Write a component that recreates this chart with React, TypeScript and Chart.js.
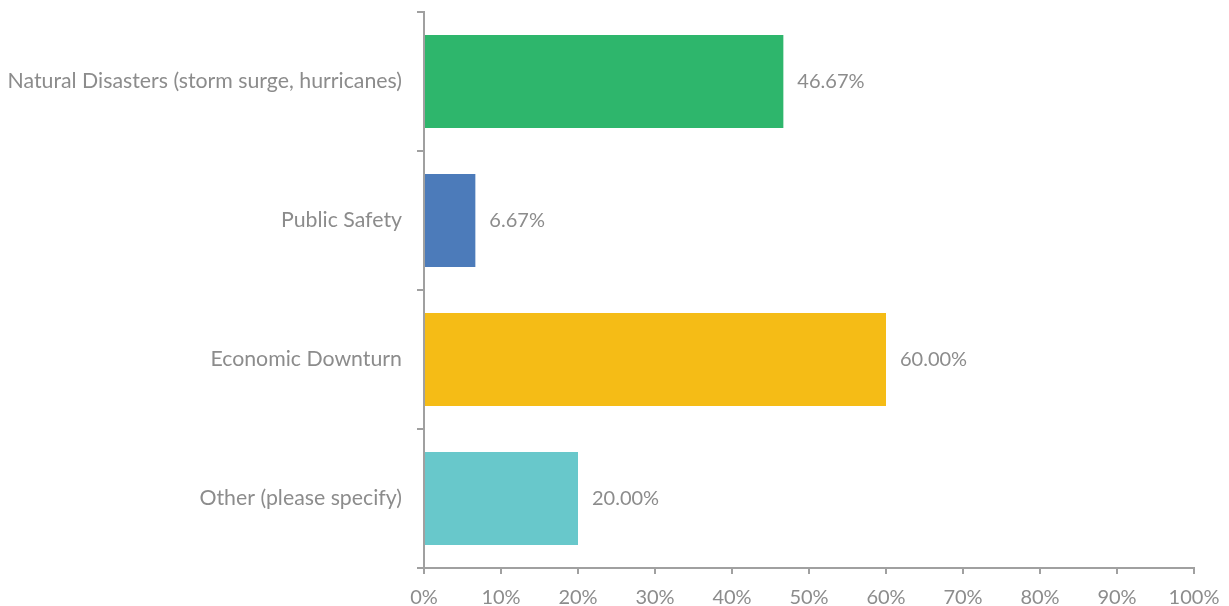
import React, { useEffect, useRef } from "react";
import { Chart, registerables } from "chart.js";

Chart.register(...registerables);

const categories = [
  "Natural Disasters (storm surge, hurricanes)",
  "Public Safety",
  "Economic Downturn",
  "Other (please specify)",
];
const values = [46.67, 6.67, 60.0, 20.0];
const barColors = ["#2EB66C", "#4C7BBA", "#F5BC16", "#68C8CB"];
const xTicks = [0, 10, 20, 30, 40, 50, 60, 70, 80, 90, 100];

const FONT = "Lato, 'Open Sans', sans-serif";
const GRAY = "#8C8C8C";
const AXIS = "#A0A0A0";

const valueLabels = {
  id: "valueLabels",
  afterDatasetsDraw(chart: any) {
    const ctx = chart.ctx;
    const meta = chart.getDatasetMeta(0);
    ctx.save();
    ctx.font = `20px ${FONT}`;
    ctx.fillStyle = GRAY;
    ctx.textAlign = "left";
    ctx.textBaseline = "middle";
    meta.data.forEach((el: any, i: number) => {
      ctx.fillText(values[i].toFixed(2) + "%", el.x + 14, el.y);
    });
    ctx.restore();
  },
};

export default function App() {
  const ref = useRef<HTMLCanvasElement | null>(null);
  useEffect(() => {
    document.body.style.margin = "0";
    const chart = new Chart(ref.current!, {
      type: "bar",
      data: {
        labels: categories,
        datasets: [
          {
            data: values,
            backgroundColor: barColors,
            borderWidth: 0,
            barPercentage: 0.67,
            categoryPercentage: 1,
          },
        ],
      },
      plugins: [valueLabels],
      options: {
        indexAxis: "y",
        animation: false,
        responsive: false,
        layout: { padding: { top: 12, right: 35, left: 0, bottom: 0 } },
        plugins: { legend: { display: false }, tooltip: { enabled: false } },
        scales: {
          x: {
            min: 0,
            max: 100,
            afterBuildTicks: (scale: any) => {
              scale.ticks = xTicks.map((v) => ({ value: v }));
            },
            afterFit: (scale: any) => {
              scale.height = 38;
              scale.paddingLeft = 0;
              scale.paddingRight = 0;
            },
            border: { display: true, color: AXIS, width: 2 },
            grid: {
              display: true,
              drawOnChartArea: false,
              drawTicks: true,
              tickLength: 6,
              color: AXIS,
              lineWidth: 2,
            },
            ticks: {
              color: GRAY,
              font: { family: FONT, size: 20 },
              padding: 12,
              callback: (v: any) => v + "%",
              maxRotation: 0,
            },
          },
          y: {
            afterFit: (scale: any) => {
              scale.width = 424;
              scale.paddingTop = 0;
              scale.paddingBottom = 0;
            },
            border: { display: true, color: AXIS, width: 2 },
            grid: {
              display: true,
              offset: true,
              drawOnChartArea: false,
              drawTicks: true,
              tickLength: 7,
              color: AXIS,
              lineWidth: 2,
            },
            ticks: {
              color: GRAY,
              font: { family: FONT, size: 21.3 },
              padding: 15,
            },
          },
        },
      },
    });
    return () => chart.destroy();
  }, []);
  return <canvas ref={ref} width={1229} height={606} style={{ display: "block" }} />;
}
